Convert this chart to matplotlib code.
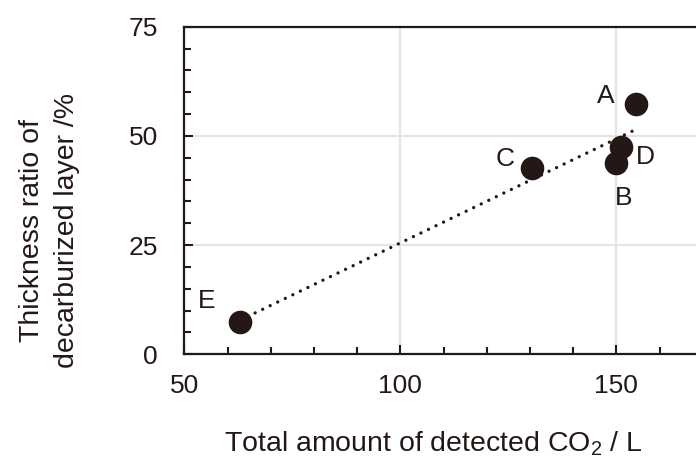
import numpy as np
import matplotlib
matplotlib.use("Agg")
import matplotlib.pyplot as plt

plt.rcParams['font.family'] = ['Liberation Sans', 'DejaVu Sans']
plt.rcParams['mathtext.fontset'] = 'custom'
plt.rcParams['mathtext.rm'] = 'Liberation Sans'
plt.rcParams['mathtext.it'] = 'Liberation Sans'

labels = ['A', 'B', 'C', 'D', 'E']
co2 = [154.6, 149.9, 130.4, 151.0, 62.9]
ratio = [57.2, 43.7, 42.6, 47.4, 7.5]
label_offsets_px = {'A': (-30, 8), 'B': (8, -35), 'C': (-27, 9), 'D': (25, -10), 'E': (-33, 21)}

ink = '#231815'
W, H = 696, 459
fig = plt.figure(figsize=(W/100, H/100), dpi=100)
x0, ytop, ybot = 184.3, 26.7, 354.3
ax = fig.add_axes([x0/W, 1-ybot/H, 120*4.32/W, (ybot-ytop)/H])

ax.set_xlim(50, 170)
ax.set_ylim(0, 75)
ax.set_xticks([50, 100, 150])
ax.set_yticks([0, 25, 50, 75])
ax.set_xticks(np.arange(60, 171, 10), minor=True)
ax.set_yticks(np.arange(0, 76, 5), minor=True)
ax.grid(True, which='major', color='#e4e4e4', linewidth=1.5, zorder=0)
ax.set_axisbelow(True)

slope, intercept = np.polyfit(co2, ratio, 1)
xs = np.array([min(co2), max(co2)])
ax.plot(xs, slope*xs + intercept, linestyle=(0, (0.01, 2.5)), linewidth=2.4,
        dash_capstyle='round', color=ink, zorder=2)
ax.plot(co2, ratio, 'o', markersize=17, color=ink, markeredgewidth=0, zorder=3, clip_on=False)

for lab, x, y in zip(labels, co2, ratio):
    ax.annotate(lab, (x, y), xytext=label_offsets_px[lab], textcoords='offset pixels',
                ha='center', va='center', fontsize=19, color=ink)

for s in ax.spines.values():
    s.set_linewidth(1.6)
    s.set_color(ink)
ax.tick_params(which='both', direction='in', color=ink, width=1.5, labelsize=19,
               labelcolor=ink)
ax.tick_params(axis='x', pad=14)
ax.tick_params(axis='y', pad=19)
ax.tick_params(which='major', length=6.5)
ax.tick_params(which='minor', length=5)

fig.text(433/W, 1-451/H, 'Total amount of detected CO$_2$ / L', fontsize=20.5, color=ink,
         ha='center', va='baseline')
fig.text(50/W, 1-231/H, 'Thickness ratio of\ndecarburized layer /%', fontsize=20.5, color=ink,
         rotation=90, ha='center', va='center', linespacing=1.45, multialignment='center')

fig.savefig('out.png', dpi=100)
